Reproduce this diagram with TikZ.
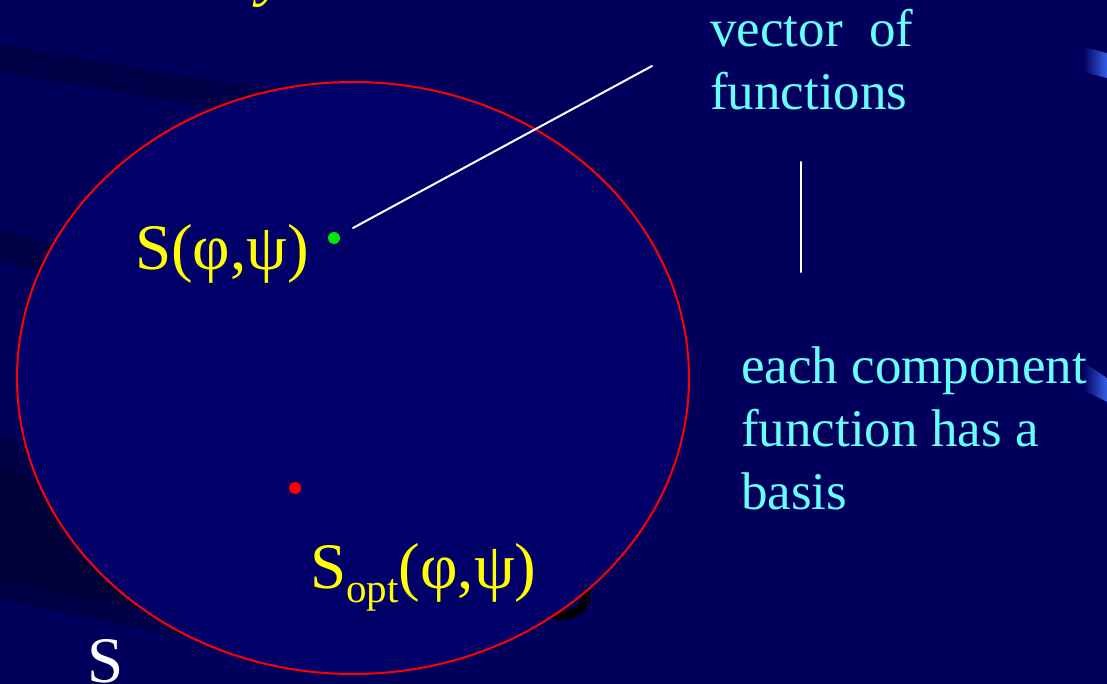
\documentclass[tikz,border=0pt]{standalone}
\usepackage{fontspec}
\setmainfont{Liberation Serif}
\definecolor{slidebg}{RGB}{0,0,92}
\definecolor{setfill}{RGB}{0,0,104}
\definecolor{streak}{RGB}{0,0,72}
\definecolor{streakdeep}{RGB}{0,0,56}
\definecolor{glint}{RGB}{55,95,230}
\definecolor{labelyellow}{RGB}{255,255,0}
\definecolor{notecyan}{RGB}{102,255,255}
\definecolor{dotgreen}{RGB}{0,235,0}
\tikzset{
  dot/.style={circle,inner sep=0pt,minimum size=12pt},
  setlabel/.style={anchor=base west,inner sep=0pt,text=labelyellow,font=\fontsize{65}{72}\selectfont},
  note/.style={anchor=base west,inner sep=0pt,text=notecyan,font=\fontsize{53}{62}\selectfont},
  pointer/.style={white,line width=2pt}
}
\begin{document}
\begin{tikzpicture}[x=1pt,y=-1pt,line cap=round,line join=round]
  \useasboundingbox (0,0) rectangle (1107,684);
  \clip (0,0) rectangle (1107,684);
  \fill[slidebg] (0,0) rectangle (1107,684);
  % background streaks
  \fill[streak] (0,44) -- (330,100) -- (330,128) -- (0,72) -- cycle;
  \fill[streak] (0,228) -- (120,268) -- (120,300) -- (0,260) -- cycle;
  \fill[streak] (0,432) -- (200,520) -- (200,640) -- (0,600) -- cycle;
  \fill[streakdeep] (0,465) -- (200,560) -- (200,620) -- (0,580) -- cycle;
  \shade[left color=slidebg,right color=glint] (1083,47) -- (1107,53) -- (1107,78) -- (1083,72) -- cycle;
  \shade[left color=slidebg,right color=glint] (1083,362) -- (1107,378) -- (1107,402) -- (1083,390) -- cycle;
  % the set S
  \fill[setfill] (353,378) ellipse [x radius=336pt,y radius=296pt];
  \fill[black] (553,620) .. controls (582,621) and (594,606) .. (589,590)
    -- (581,592) .. controls (584,604) and (574,611) .. (553,612) -- cycle;
  \draw[red,line width=2pt] (353,378) ellipse [x radius=336pt,y radius=296pt];
  % title fragment
  \node[setlabel,font=\fontsize{65}{72}\selectfont\itshape] (title) at (258,-6) {y};
  % points
  \node[dot,fill=dotgreen] (sdot) at (334,238) {};
  \node[dot,fill=red] (optdot) at (295,488) {};
  \node[setlabel] (slabel) at (135,270) {S(φ,ψ)};
  \node[setlabel] (optlabel) at (310,588)
    {S\raisebox{-14pt}{\fontsize{41}{41}\selectfont opt}(φ,ψ)};
  \node[setlabel,text=white] (setname) at (87,682) {S};
  % notes
  \node[note] (vec1) at (710,47) {vector\ \ of};
  \node[note] (vec2) at (710,110) {functions};
  \node[note] (comp1) at (741,383) {each component};
  \node[note] (comp2) at (741,446) {function has a};
  \node[note] (comp3) at (741,509) {basis};
  \coordinate (ptrA) at (353,228);
  \coordinate (ptrB) at (652,66);
  \coordinate (barA) at (801,162);
  \coordinate (barB) at (801,272);
  \draw[pointer] (ptrA) -- (ptrB);
  \draw[pointer] (barA) -- (barB);
\end{tikzpicture}
\end{document}
